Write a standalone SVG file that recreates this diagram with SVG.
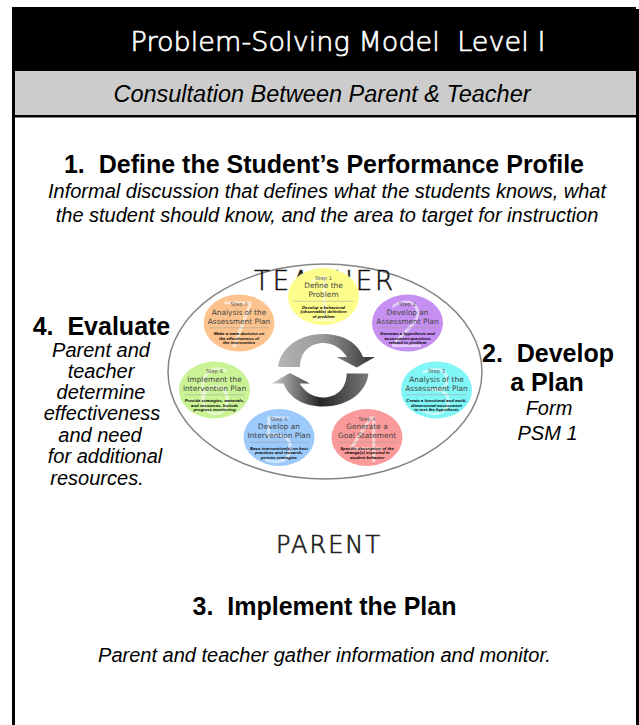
<svg xmlns="http://www.w3.org/2000/svg" width="639" height="725" viewBox="0 0 639 725">
<style>
.ttl{font-family:"DejaVu Sans",sans-serif;font-weight:200;font-size:27px;fill:#fff;stroke:#fff;stroke-width:0.7px;text-anchor:middle}
.sub{font-family:"Liberation Sans",Arial,sans-serif;font-style:italic;font-size:23.5px;fill:#000;text-anchor:middle}
.h{font-family:"Liberation Sans",Arial,sans-serif;font-weight:bold;font-size:25px;fill:#000;text-anchor:middle}
.it{font-family:"Liberation Sans",Arial,sans-serif;font-style:italic;font-size:20px;fill:#000;text-anchor:middle}
.big{font-family:"DejaVu Sans",sans-serif;font-weight:200;text-anchor:middle}
.stp{font-family:"DejaVu Sans",sans-serif;font-size:5.3px;fill:#555;text-anchor:middle}
.stt{font-family:"DejaVu Sans",sans-serif;font-size:7.4px;fill:#444;text-anchor:middle}
.dsc{font-family:"Liberation Sans",Arial,sans-serif;font-weight:bold;font-style:italic;font-size:4.3px;fill:#000;text-anchor:middle}
.num{font-family:"DejaVu Sans",sans-serif;font-weight:200;font-size:62px;fill:#fff;fill-opacity:0.55;text-anchor:middle}
.sep{stroke:#9a9a9a;stroke-width:0.5}
.stepshape{stroke:none}
</style>
<defs>
<linearGradient id="gUp" x1="0" y1="0" x2="1" y2="0">
<stop offset="0" stop-color="#b4b4b4"/>
<stop offset="0.45" stop-color="#9a9a9a"/>
<stop offset="1" stop-color="#333"/>
</linearGradient>
<linearGradient id="gLow" x1="0" y1="0" x2="1" y2="0">
<stop offset="0" stop-color="#7a7a7a"/>
<stop offset="0.5" stop-color="#262626"/>
<stop offset="1" stop-color="#cfcfcf"/>
</linearGradient>
</defs>
<rect width="639" height="725" fill="#fff"/>
<g id="frame">
<rect x="12" y="7" width="624" height="64" fill="#000"/>
<rect x="15" y="71" width="621" height="44" fill="#ccc"/>
<rect x="12" y="7" width="3" height="718" fill="#000"/>
<rect x="636" y="9" width="3" height="716" fill="#000"/>
<rect x="12" y="115" width="627" height="2.5" fill="#000"/>
<text class="ttl" x="338" y="51" xml:space="preserve" textLength="415">Problem-Solving Model  Level I</text>
<text class="sub" x="322" y="102">Consultation Between Parent &amp; Teacher</text>
</g>
<g id="step-define-profile">
<text class="h" x="324" y="173" xml:space="preserve">1.  Define the Student’s Performance Profile</text>
<text class="it" x="327" y="198">Informal discussion that defines what the students knows, what</text>
<text class="it" x="327" y="222">the student should know, and the area to target for instruction</text>
</g>
<g id="step-evaluate">
<text class="h" x="101.5" y="335" xml:space="preserve">4.  Evaluate</text>
<text class="it" x="101" y="357">Parent and</text>
<text class="it" x="101" y="378">teacher</text>
<text class="it" x="101" y="399">determine</text>
<text class="it" x="102" y="420">effectiveness</text>
<text class="it" x="100" y="442">and need</text>
<text class="it" x="105" y="463">for additional</text>
<text class="it" x="97" y="485">resources.</text>
</g>
<g id="step-develop-plan">
<text class="h" x="548" y="362" xml:space="preserve">2.  Develop</text>
<text class="h" x="547" y="391">a Plan</text>
<text class="it" x="549" y="415">Form</text>
<text class="it" x="547.5" y="440">PSM 1</text>
</g>
<g id="step-implement">
<text class="h" x="324.5" y="615" xml:space="preserve">3.  Implement the Plan</text>
<text class="it" x="324.5" y="662">Parent and teacher gather information and monitor.</text>
</g>
<g id="cycle">
<ellipse cx="325" cy="371.5" rx="157" ry="107.5" fill="#fff" stroke="#858585" stroke-width="1.5"/>
<text class="big" x="323.5" y="290" font-size="26" fill="#111" stroke="#111" stroke-width="0.5" textLength="139">TEACHER</text>
<text class="big" x="328" y="553" font-size="24" fill="#222" stroke="#222" stroke-width="0.7" textLength="104">PARENT</text>
</g>
<g id="connectors">
<path id="arrow-upper" fill="url(#gUp)" d="M278.3 367 C279 352 295 334 323.3 334 C343 334 358 343 363 357 L375 357 L356.7 367.5 L336.7 357 L347 357 C341 348 333 343 323.3 343 C310 343 300 352 300 367 Z"/>
<path id="arrow-lower" fill="url(#gLow)" transform="rotate(180 323.3 370.3)" d="M278.3 367 C279 352 295 334 323.3 334 C343 334 358 343 363 357 L375 357 L356.7 367.5 L336.7 357 L347 357 C341 348 333 343 323.3 343 C310 343 300 352 300 367 Z"/>
</g>
<g id="node-step1" transform="translate(323.5 296.5)">
<ellipse class="stepshape" rx="35.5" ry="28.5" fill="#fdfd8c"/>
<text class="num" y="24">1</text>
<text class="stp" y="-17">Step 1</text>
<text class="stt" y="-8.2">Define the</text>
<text class="stt" y="0.8">Problem</text>
<line class="sep" x1="-30" y1="4.8" x2="30" y2="4.8"/>
<text class="dsc" y="12.3">Develop a behavioral</text>
<text class="dsc" y="16.8">(observable) definition</text>
<text class="dsc" y="21.2">of problem</text>
</g>
<g id="node-step2" transform="translate(407.5 323)">
<ellipse class="stepshape" rx="35.5" ry="28.5" fill="#c690f2"/>
<text class="num" y="24">2</text>
<text class="stp" y="-17">Step 2</text>
<text class="stt" y="-8.2">Develop an</text>
<text class="stt" y="0.8">Assessment Plan</text>
<line class="sep" x1="-30" y1="4.8" x2="30" y2="4.8"/>
<text class="dsc" y="12.3">Generate a hypothesis and</text>
<text class="dsc" y="16.8">assessment questions</text>
<text class="dsc" y="21.2">related to problem</text>
</g>
<g id="node-step3" transform="translate(436.5 390)">
<ellipse class="stepshape" rx="35.5" ry="28.5" fill="#80f6f6"/>
<text class="num" y="24">3</text>
<text class="stp" y="-17">Step 3</text>
<text class="stt" y="-8.2">Analysis of the</text>
<text class="stt" y="0.8">Assessment Plan</text>
<line class="sep" x1="-30" y1="4.8" x2="30" y2="4.8"/>
<text class="dsc" y="12.3">Create a functional and multi-</text>
<text class="dsc" y="16.8">dimensional assessment</text>
<text class="dsc" y="21.2">to test the hypothesis</text>
</g>
<g id="node-step4" transform="translate(367 437.5)">
<ellipse class="stepshape" rx="35.5" ry="28.5" fill="#fb9a9a"/>
<text class="num" y="24">4</text>
<text class="stp" y="-17">Step 4</text>
<text class="stt" y="-8.2">Generate a</text>
<text class="stt" y="0.8">Goal Statement</text>
<line class="sep" x1="-30" y1="4.8" x2="30" y2="4.8"/>
<text class="dsc" y="12.3">Specific description of the</text>
<text class="dsc" y="16.8">change(s) expected in</text>
<text class="dsc" y="21.2">student behavior</text>
</g>
<g id="node-step5" transform="translate(279 437.5)">
<ellipse class="stepshape" rx="35.5" ry="28.5" fill="#9ccafa"/>
<text class="num" y="24">5</text>
<text class="stp" y="-17">Step 5</text>
<text class="stt" y="-8.2">Develop an</text>
<text class="stt" y="0.8">Intervention Plan</text>
<line class="sep" x1="-30" y1="4.8" x2="30" y2="4.8"/>
<text class="dsc" y="12.3">Base intervention(s) on best</text>
<text class="dsc" y="16.8">practices and research-</text>
<text class="dsc" y="21.2">proven strategies</text>
</g>
<g id="node-step6" transform="translate(214.5 390)">
<ellipse class="stepshape" rx="35.5" ry="28.5" fill="#c9f395"/>
<text class="num" y="24">6</text>
<text class="stp" y="-17">Step 6</text>
<text class="stt" y="-8.2">Implement the</text>
<text class="stt" y="0.8">Intervention Plan</text>
<line class="sep" x1="-30" y1="4.8" x2="30" y2="4.8"/>
<text class="dsc" y="12.3">Provide strategies, materials,</text>
<text class="dsc" y="16.8">and resources. Include</text>
<text class="dsc" y="21.2">progress monitoring</text>
</g>
<g id="node-step7" transform="translate(239 323)">
<ellipse class="stepshape" rx="35.5" ry="28.5" fill="#fcc38e"/>
<text class="num" y="24">7</text>
<text class="stp" y="-17">Step 7</text>
<text class="stt" y="-8.2">Analysis of the</text>
<text class="stt" y="0.8">Assessment Plan</text>
<line class="sep" x1="-30" y1="4.8" x2="30" y2="4.8"/>
<text class="dsc" y="12.3">Make a team decision on</text>
<text class="dsc" y="16.8">the effectiveness of</text>
<text class="dsc" y="21.2">the intervention</text>
</g>
</svg>
